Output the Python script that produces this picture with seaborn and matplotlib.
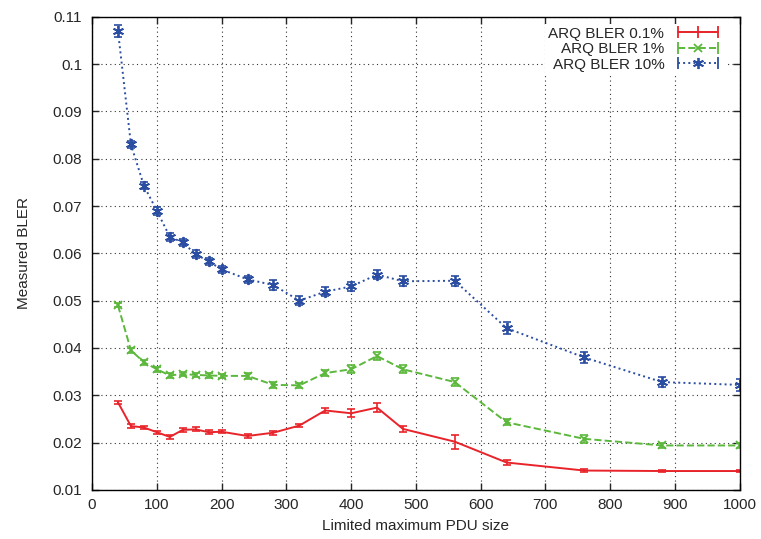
import matplotlib
matplotlib.use("Agg")
import matplotlib.pyplot as plt
from matplotlib.lines import Line2D
from matplotlib.legend_handler import HandlerLine2D, HandlerTuple
import seaborn as sns
import pandas as pd
import numpy as np

pdu_size = [40, 60, 80, 100, 120, 140, 160, 180, 200, 240, 280, 320, 360, 400, 440, 480, 560, 640, 760, 880, 1000]

bler_01 = [0.0285, 0.0235, 0.0232, 0.0222, 0.0212, 0.0227, 0.0228, 0.0222, 0.0223, 0.0214, 0.0221, 0.0236,
           0.0268, 0.0262, 0.0274, 0.0229, 0.0202, 0.0158, 0.0141, 0.0140, 0.0140]
err_01 = [0.0003, 0.0004, 0.0004, 0.0003, 0.0004, 0.0004, 0.0004, 0.0004, 0.0003, 0.0004, 0.0004, 0.0004,
          0.0006, 0.0008, 0.0009, 0.0006, 0.0015, 0.0005, 0.0003, 0.0003, 0.0003]

bler_1 = [0.0490, 0.0395, 0.0370, 0.0355, 0.0342, 0.0345, 0.0343, 0.0342, 0.0341, 0.0341, 0.0322, 0.0321,
          0.0347, 0.0355, 0.0383, 0.0355, 0.0328, 0.0243, 0.0208, 0.0194, 0.0194]
err_1 = [0.0004, 0.0005, 0.0005, 0.0005, 0.0005, 0.0005, 0.0005, 0.0005, 0.0005, 0.0006, 0.0006, 0.0005,
         0.0007, 0.0008, 0.0008, 0.0008, 0.0008, 0.0006, 0.0008, 0.0005, 0.0005]

bler_10 = [0.1070, 0.0830, 0.0743, 0.0690, 0.0635, 0.0623, 0.0598, 0.0583, 0.0566, 0.0545, 0.0533, 0.0500,
           0.0519, 0.0530, 0.0555, 0.0541, 0.0542, 0.0442, 0.0380, 0.0328, 0.0322]
err_10 = [0.0012, 0.0008, 0.0008, 0.0008, 0.0008, 0.0008, 0.0008, 0.0008, 0.0008, 0.0008, 0.0010, 0.0009,
          0.0010, 0.0010, 0.0009, 0.0011, 0.0011, 0.0012, 0.0011, 0.0011, 0.0012]

series_names = ["ARQ BLER 0.1%", "ARQ BLER 1%", "ARQ BLER 10%"]
colors = ["#e8232a", "#5cb83c", "#2b4ea2"]
styles = ["-", "--", ":"]
markers = [None, "x", (6, 2, 0)]
msizes = [0, 6, 8]

sns.set_style("ticks")
plt.rcParams['font.family'] = ['Liberation Sans', 'DejaVu Sans']

fig = plt.figure(figsize=(7.61, 5.39), dpi=100)
ax = fig.add_axes([0.121, 0.091, 0.851, 0.878])

handles = []
handler_map = {}
for name, vals, errs, c, ls, mk, ms in zip(series_names, [bler_01, bler_1, bler_10],
                                           [err_01, err_1, err_10], colors, styles, markers, msizes):
    df = pd.DataFrame({"x": pdu_size, "y": vals})
    eb = ax.errorbar(pdu_size, vals, yerr=errs, fmt="none", ecolor=c, elinewidth=1.2,
                     capsize=3, capthick=1.2)
    for lc in eb[2]:
        lc.set_linestyle(ls)
    if mk is None:
        sns.lineplot(data=df, x="x", y="y", ax=ax, color=c, linestyle=ls, linewidth=1.4,
                     legend=False)
    else:
        sns.lineplot(data=df, x="x", y="y", ax=ax, color=c, linestyle=ls, linewidth=1.4,
                     marker=mk, markersize=ms, markeredgewidth=1.3, markeredgecolor=c,
                     legend=False)
    caps = Line2D([], [], color=c, linestyle=ls, linewidth=1.4, marker="|",
                  markersize=8, markeredgewidth=1.3)
    mark = Line2D([], [], color=c, linestyle="none", marker="|" if mk is None else mk,
                  markersize=8 if mk is None else ms, markeredgewidth=1.3)
    handler_map[caps] = HandlerLine2D(numpoints=2)
    handler_map[mark] = HandlerLine2D(numpoints=1)
    handles.append((caps, mark))
handler_map[tuple] = HandlerTuple(ndivide=1, pad=0)

ax.set_xlim(0, 1000)
ax.set_ylim(0.01, 0.11)
ax.set_xticks(np.arange(0, 1001, 100))
ax.set_yticks(np.round(np.arange(0.01, 0.1101, 0.01), 2))
ax.set_yticklabels(["0.01", "0.02", "0.03", "0.04", "0.05", "0.06", "0.07", "0.08", "0.09", "0.1", "0.11"])
ax.grid(True, color="black", linestyle=(0, (1, 3)), linewidth=0.8, alpha=0.8)
ax.tick_params(direction="in", top=True, right=True, length=5, labelsize=11, width=1)
ax.tick_params(axis="y", pad=7)
ax.tick_params(axis="x", pad=6)
for s in ax.spines.values():
    s.set_linewidth(1.0)
    s.set_color("black")
ax.set_xlabel("Limited maximum PDU size", fontsize=11, labelpad=5)
ax.set_ylabel("Measured BLER", fontsize=11, labelpad=16)

leg = ax.legend(handles, series_names, handler_map=handler_map, loc="upper right",
                frameon=True, markerfirst=False, fontsize=11,
                handlelength=3.2, borderaxespad=0.3, labelspacing=0.1, handletextpad=0.6,
                bbox_to_anchor=(0.985, 0.995), borderpad=0.2)
leg.get_frame().set_facecolor("white")
leg.get_frame().set_edgecolor("none")
leg.get_frame().set_alpha(1.0)
leg.get_frame().set_boxstyle("square", pad=0)

fig.savefig("out.png", dpi=100)
